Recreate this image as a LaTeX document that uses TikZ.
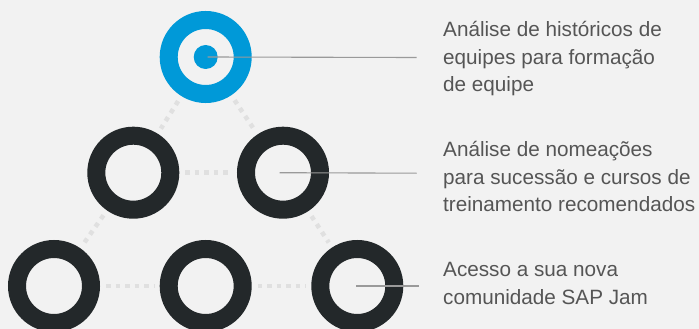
\documentclass[tikz,border=0pt]{standalone}
\usepackage{fontspec}
\setmainfont{Liberation Sans}
\usetikzlibrary{positioning}
\definecolor{sapblue}{HTML}{0099D8}
\definecolor{ringdark}{HTML}{23282A}
\definecolor{bggray}{HTML}{F2F2F2}
\definecolor{dotgray}{HTML}{E0E0E0}
\definecolor{leadgray}{HTML}{9A9A9A}
\definecolor{txtgray}{HTML}{555555}
\begin{document}
\begin{tikzpicture}[x=1pt,y=-1pt,
		ring/.style={circle,draw=ringdark,line width=18pt,minimum size=74pt,inner sep=0pt,outer sep=9pt},
		link/.style={dotgray,line width=4.5pt,dash pattern=on 4.5pt off 5pt,shorten <=6pt,shorten >=6pt},
		leader/.style={leadgray,line width=1.1pt},
		desc/.style={anchor=base west,align=left,text=txtgray,inner sep=0pt,font=\fontsize{20.7}{27.6}\selectfont}]
			\fill[bggray] (0,0) rectangle (699,329);
			\clip (0,0) rectangle (699,329);
			% rings
			\node[ring,draw=sapblue] (top) at (205.7,57) {};
			\node[circle,fill=sapblue,minimum size=24pt,inner sep=0pt] (core) at (top.center) {};
			\node[ring] (ml) at (133.3,172.7) {};
			\node[ring] (mr) at (283,172.7) {};
			\node[ring] (bl) at (54,286) {};
			\node[ring] (bm) at (205.7,286) {};
			\node[ring] (br) at (357.3,286) {};
			% dotted links
			\draw[link] (top) -- (ml);
			\draw[link] (top) -- (mr);
			\draw[link] (ml) -- (mr);
			\draw[link] (ml) -- (bl);
			\draw[link] (mr) -- (br);
			\draw[link] (bl) -- (bm);
			\draw[link] (bm) -- (br);
			% leaders and texts (base = last line)
			\coordinate (e1) at (416.7,57.5);
			\coordinate (e2) at (416.7,173.2);
			\coordinate (e3) at (419,286);
			\draw[leader] ([xshift=2pt]top.center) -- (e1);
			\draw[leader] ([xshift=-3.5pt]mr.center) -- (e2);
			\draw[leader] ([xshift=-1.3pt]br.center) -- (e3);
			\node[desc] (t1) at (443,91.9) {Análise de históricos de\\equipes para formação\\de equipe};
			\node[desc] (t2) at (443,211.9) {Análise de nomeações\\para sucessão e cursos de\\treinamento recomendados};
			\node[desc] (t3) at (443,304.3) {Acesso a sua nova\\comunidade SAP Jam};
		\end{tikzpicture}
\end{document}
